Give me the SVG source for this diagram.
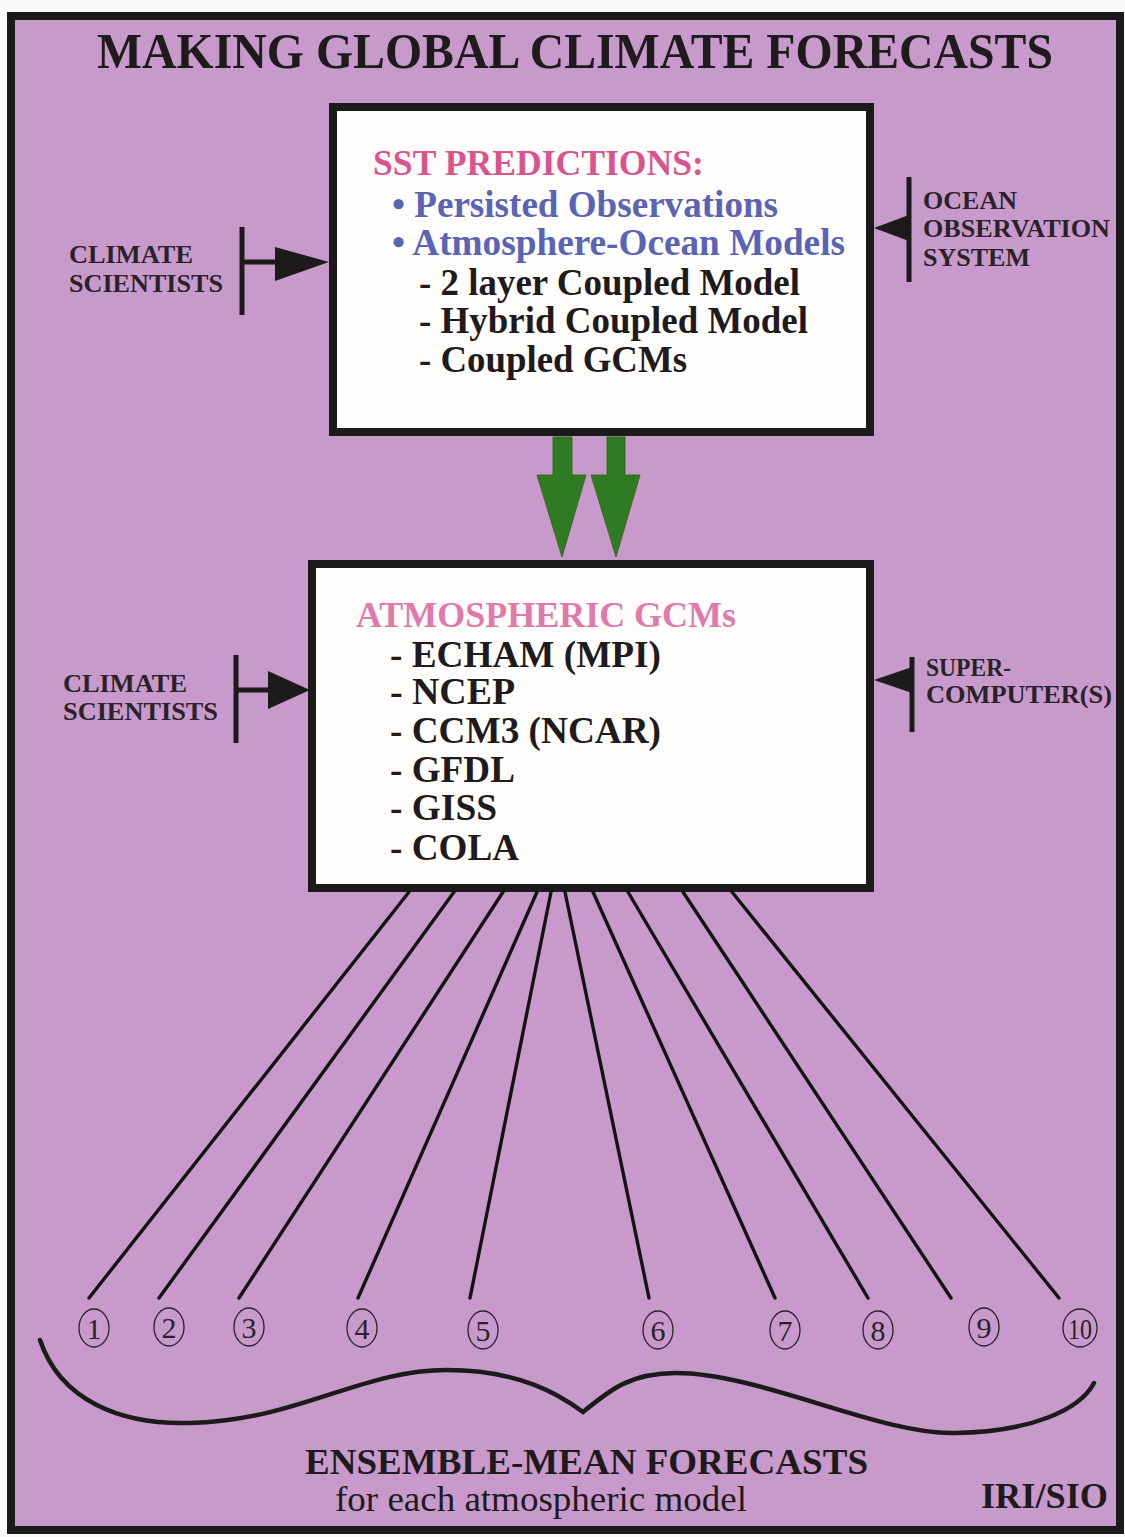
<svg xmlns="http://www.w3.org/2000/svg" width="1125" height="1537" viewBox="0 0 1125 1537">
  <style>
    .serif { font-family: "Liberation Serif", "Times New Roman", serif; }
    .b { font-weight: bold; }
    .ink { fill: #1f1a1c; }
    .pink { fill: #d9548f; }
    .pink2 { fill: #e07aab; }
    .blue { fill: #5b63b5; }
    .side { font-size: 26px; font-weight: bold; fill: #2a2228; }
    .item { font-size: 37px; font-weight: bold; fill: #1f1a1c; }
    .box { fill: #fefdfb; stroke: #1c1a1a; stroke-width: 8; }
    .bar { stroke: #1c1a1a; stroke-width: 5; fill: none; }
    .head { fill: #1c1a1a; }
    .fan { stroke: #151214; stroke-width: 3.4; fill: none; stroke-linecap: round; }
    .oval { fill: none; stroke: #2a2228; stroke-width: 1.3; }
    .num { font-size: 30px; fill: #2a2228; text-anchor: middle; }
    .green { fill: #2f7b23; stroke: #3d6a1e; stroke-width: 1; }
  </style>

  <!-- page and framed lavender panel -->
  <rect x="0" y="0" width="1125" height="1537" fill="#fbfafa"/>
  <rect x="11" y="16" width="1109" height="1514" fill="#c79acb" stroke="#1c1a1a" stroke-width="8"/>

  <!-- heading -->
  <text class="serif b ink" x="97" y="68" font-size="50" textLength="956" lengthAdjust="spacingAndGlyphs">MAKING GLOBAL CLIMATE FORECASTS</text>

  <!-- SST prediction box -->
  <g id="sst-predictions">
    <rect class="box" x="333" y="107" width="537" height="325"/>
    <text class="serif b pink" x="373" y="175" font-size="36" textLength="331" lengthAdjust="spacingAndGlyphs">SST PREDICTIONS:</text>
    <text class="serif b blue" x="392" y="217" font-size="37" textLength="386" lengthAdjust="spacingAndGlyphs">• Persisted Observations</text>
    <text class="serif b blue" x="392" y="255" font-size="37" textLength="453" lengthAdjust="spacingAndGlyphs">• Atmosphere-Ocean Models</text>
    <text class="serif item" x="419" y="295" textLength="381" lengthAdjust="spacingAndGlyphs">- 2 layer Coupled Model</text>
    <text class="serif item" x="419" y="333" textLength="389" lengthAdjust="spacingAndGlyphs">- Hybrid Coupled Model</text>
    <text class="serif item" x="419" y="372" textLength="268" lengthAdjust="spacingAndGlyphs">- Coupled GCMs</text>
  </g>

  <!-- atmospheric GCM box -->
  <g id="atmospheric-gcms">
    <rect class="box" x="312" y="564" width="558" height="324"/>
    <text class="serif b pink2" x="356" y="627" font-size="36" textLength="380" lengthAdjust="spacingAndGlyphs">ATMOSPHERIC GCMs</text>
    <text class="serif item" x="390" y="667" textLength="271" lengthAdjust="spacingAndGlyphs">- ECHAM (MPI)</text>
    <text class="serif item" x="390" y="704" textLength="125" lengthAdjust="spacingAndGlyphs">- NCEP</text>
    <text class="serif item" x="390" y="743" textLength="271" lengthAdjust="spacingAndGlyphs">- CCM3 (NCAR)</text>
    <text class="serif item" x="390" y="782" textLength="125" lengthAdjust="spacingAndGlyphs">- GFDL</text>
    <text class="serif item" x="390" y="820" textLength="107" lengthAdjust="spacingAndGlyphs">- GISS</text>
    <text class="serif item" x="390" y="860" textLength="129" lengthAdjust="spacingAndGlyphs">- COLA</text>
  </g>

  <!-- side inputs -->
  <g id="climate-scientists-upper">
    <text class="serif side" x="69" y="263" textLength="124" lengthAdjust="spacingAndGlyphs">CLIMATE</text>
    <text class="serif side" x="69" y="292" textLength="154" lengthAdjust="spacingAndGlyphs">SCIENTISTS</text>
  </g>
  <g id="ocean-observation-system">
    <text class="serif side" x="923" y="209" textLength="94" lengthAdjust="spacingAndGlyphs">OCEAN</text>
    <text class="serif side" x="923" y="237" textLength="187" lengthAdjust="spacingAndGlyphs">OBSERVATION</text>
    <text class="serif side" x="923" y="266" textLength="107" lengthAdjust="spacingAndGlyphs">SYSTEM</text>
  </g>
  <g id="climate-scientists-lower">
    <text class="serif side" x="63" y="692" textLength="124" lengthAdjust="spacingAndGlyphs">CLIMATE</text>
    <text class="serif side" x="63" y="720" textLength="155" lengthAdjust="spacingAndGlyphs">SCIENTISTS</text>
  </g>
  <g id="supercomputers">
    <text class="serif side" x="926" y="676" textLength="85" lengthAdjust="spacingAndGlyphs">SUPER-</text>
    <text class="serif side" x="926" y="703" textLength="186" lengthAdjust="spacingAndGlyphs">COMPUTER(S)</text>
  </g>

  <!-- ensemble members -->
  <g id="ensemble-members">
    <g id="member-1"><ellipse class="oval" cx="94" cy="1328" rx="15" ry="19"/><text class="serif num" x="94" y="1339">1</text></g>
    <g id="member-2"><ellipse class="oval" cx="169" cy="1327" rx="15" ry="19"/><text class="serif num" x="169" y="1338">2</text></g>
    <g id="member-3"><ellipse class="oval" cx="249" cy="1327" rx="15" ry="19"/><text class="serif num" x="249" y="1338">3</text></g>
    <g id="member-4"><ellipse class="oval" cx="362" cy="1328" rx="15" ry="19"/><text class="serif num" x="362" y="1339">4</text></g>
    <g id="member-5"><ellipse class="oval" cx="483" cy="1330" rx="15" ry="19"/><text class="serif num" x="483" y="1341">5</text></g>
    <g id="member-6"><ellipse class="oval" cx="658" cy="1330" rx="15" ry="19"/><text class="serif num" x="658" y="1341">6</text></g>
    <g id="member-7"><ellipse class="oval" cx="785" cy="1330" rx="15" ry="19"/><text class="serif num" x="785" y="1341">7</text></g>
    <g id="member-8"><ellipse class="oval" cx="878" cy="1330" rx="15" ry="19"/><text class="serif num" x="878" y="1341">8</text></g>
    <g id="member-9"><ellipse class="oval" cx="984" cy="1327" rx="15" ry="19"/><text class="serif num" x="984" y="1338">9</text></g>
    <g id="member-10"><ellipse class="oval" cx="1080" cy="1328" rx="17" ry="19"/><text class="serif num" x="1080" y="1339" textLength="24" lengthAdjust="spacingAndGlyphs">10</text></g>
  </g>

  <g id="ensemble-label">
    <text class="serif b ink" x="305" y="1474" font-size="35" textLength="563" lengthAdjust="spacingAndGlyphs">ENSEMBLE-MEAN FORECASTS</text>
    <text class="serif ink" x="335" y="1511" font-size="35" textLength="412" lengthAdjust="spacingAndGlyphs">for each atmospheric model</text>
  </g>
  <g id="credit">
    <text class="serif b ink" x="981" y="1508" font-size="35" textLength="127" lengthAdjust="spacingAndGlyphs">IRI/SIO</text>
  </g>

  <!-- connectors -->
  <g id="connectors">
    <!-- SST predictions feed the atmospheric models -->
    <polygon class="green" points="553,437 572,437 572,475 586,475 562,557 537,475 553,475"/>
    <polygon class="green" points="607,437 625,437 625,475 640,475 616,557 591,475 607,475"/>

    <!-- climate scientists -> SST box -->
    <line class="bar" x1="242" y1="227" x2="242" y2="315"/>
    <line class="bar" x1="242" y1="262" x2="278" y2="262" stroke-width="4"/>
    <polygon class="head" points="275,247 329,262 275,281"/>

    <!-- ocean observation system -> SST box -->
    <line class="bar" x1="909" y1="177" x2="909" y2="282"/>
    <polygon class="head" points="909,215 874,228 909,241"/>

    <!-- climate scientists -> GCM box -->
    <line class="bar" x1="236" y1="655" x2="236" y2="743"/>
    <line class="bar" x1="236" y1="690" x2="272" y2="690" stroke-width="4"/>
    <polygon class="head" points="268,671 310,690 268,709"/>

    <!-- supercomputers -> GCM box -->
    <line class="bar" x1="912" y1="657" x2="912" y2="732"/>
    <polygon class="head" points="912,667 874,680 912,693"/>

    <!-- fan of runs to the ensemble members -->
    <line class="fan" x1="409" y1="892" x2="89" y2="1298"/>
    <line class="fan" x1="454" y1="892" x2="159" y2="1298"/>
    <line class="fan" x1="503" y1="892" x2="239" y2="1298"/>
    <line class="fan" x1="537" y1="892" x2="358" y2="1298"/>
    <line class="fan" x1="551" y1="892" x2="470" y2="1298"/>
    <line class="fan" x1="565" y1="892" x2="649" y2="1298"/>
    <line class="fan" x1="593" y1="892" x2="775" y2="1298"/>
    <line class="fan" x1="628" y1="892" x2="868" y2="1298"/>
    <line class="fan" x1="683" y1="892" x2="951" y2="1298"/>
    <line class="fan" x1="732" y1="892" x2="1059" y2="1298"/>

    <!-- brace gathering the members -->
    <path d="M40,1340 C60,1400 120,1425 190,1423 C300,1420 360,1370 447,1370 C520,1370 560,1395 583,1412 C610,1390 630,1373 676,1373 C760,1373 880,1435 955,1433 C1030,1432 1080,1410 1094,1383" fill="none" stroke="#1c1a1a" stroke-width="4.5" stroke-linecap="round"/>
  </g>
</svg>
